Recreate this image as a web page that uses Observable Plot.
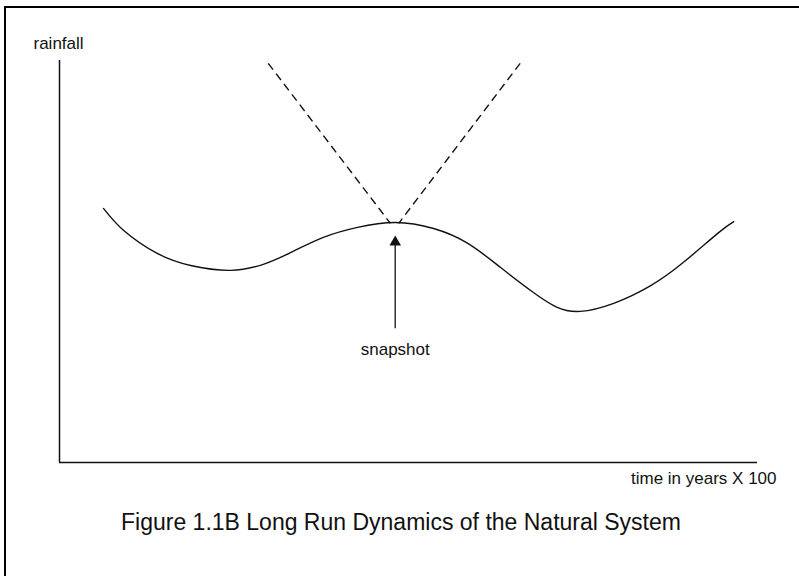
<!DOCTYPE html>
<html>
<head>
<meta charset="utf-8">
<script src="https://cdn.jsdelivr.net/npm/d3@7"></script>
<script src="https://cdn.jsdelivr.net/npm/@observablehq/plot@0.6"></script>
<style>
  html, body { margin: 0; padding: 0; background: #fff; overflow: hidden; }
  #wrap { position: relative; width: 799px; height: 576px; overflow: hidden; }
  #frame { position: absolute; left: 4px; top: 6px; width: 900px; height: 700px; border: 2px solid #000; pointer-events: none; }
  #chart { position: absolute; left: 0; top: 0; }
</style>
</head>
<body>
<div id="wrap"><div id="chart"></div><div id="frame"></div></div>
<script>
// Rainfall curve (time in arbitrary units, rainfall in arbitrary units)
const time = [6.3, 9.2, 14.0, 18.8, 24.5, 29.2, 33.1, 37.8, 42.7, 48.1, 53.6, 58.5, 63.2, 67.9, 71.3, 74.6, 79.4, 84.7, 89.4, 94.3, 96.6];
const rainfall = [63.2, 57.7, 52.0, 49.0, 47.8, 49.3, 52.2, 56.0, 58.5, 59.7, 58.2, 54.5, 48.5, 42.3, 38.6, 37.6, 39.6, 44.0, 49.8, 57.0, 59.9];

// Dashed V lines (from top to the snapshot point)
const dashTimeTop = [29.9, 66.0];
const dashRainTop = [99.3, 99.3];
const dashTimeBottom = [47.4, 48.6];
const dashRainBottom = [59.5, 59.5];

// Snapshot arrow
const arrowTime = [48.1];
const arrowFrom = [33.3];
const arrowTo = [54.0];
const arrowHead = [54.8];

// Labels
const snapshotLabel = ["snapshot"];
const snapshotLabelRain = [28.1];
const yLabel = "rainfall";
const xLabel = "time in years X 100";
const caption = "Figure 1.1B Long Run Dynamics of the Natural System";

const curve = time.map((t, i) => ({t, r: rainfall[i]}));
const dashes = dashTimeTop.map((t, i) => ({x1: t, y1: dashRainTop[i], x2: dashTimeBottom[i], y2: dashRainBottom[i]}));
const arrow = arrowTime.map((t, i) => ({t, from: arrowFrom[i], to: arrowTo[i], head: arrowHead[i], label: snapshotLabel[i], labelR: snapshotLabelRain[i]}));

const font = "'Liberation Sans', Arial, Helvetica, sans-serif";

const chart = Plot.plot({
  width: 799,
  height: 576,
  marginLeft: 59,
  marginRight: 42,
  marginTop: 60,
  marginBottom: 114,
  style: {fontFamily: font, background: "transparent", color: "#111"},
  x: {domain: [0, 100], axis: null},
  y: {domain: [0, 100], axis: null},
  marks: [
    Plot.ruleX([0], {stroke: "#111", strokeWidth: 1.5}),
    Plot.ruleY([0], {stroke: "#111", strokeWidth: 1.5}),
    Plot.line(curve, {x: "t", y: "r", curve: "natural", stroke: "#111", strokeWidth: 1.4}),
    Plot.link(dashes, {x1: "x1", y1: "y1", x2: "x2", y2: "y2", stroke: "#111", strokeWidth: 1.4, strokeDasharray: "8,5"}),
    Plot.ruleX(arrow, {x: "t", y1: "from", y2: "to", stroke: "#333", strokeWidth: 1.5}),
    Plot.dot(arrow, {x: "t", y: "head", symbol: "triangle", r: 4.3, fill: "#111", stroke: "none"}),
    Plot.text(arrow, {x: "t", y: "labelR", text: "label", fontSize: 17, lineAnchor: "middle", fill: "#111"}),
    Plot.text([yLabel], {text: d => d, frameAnchor: "top-left", textAnchor: "start", lineAnchor: "middle", dx: -26, dy: -17, fontSize: 17, fill: "#111"}),
    Plot.text([xLabel], {text: d => d, frameAnchor: "bottom-right", textAnchor: "end", lineAnchor: "middle", dx: 19, dy: 16, fontSize: 17, fill: "#111"}),
    Plot.text([caption], {text: d => d, frameAnchor: "bottom", textAnchor: "middle", lineAnchor: "middle", dx: -7.5, dy: 60, fontSize: 23, fill: "#111"})
  ]
});
document.getElementById("chart").appendChild(chart);
</script>
</body>
</html>
